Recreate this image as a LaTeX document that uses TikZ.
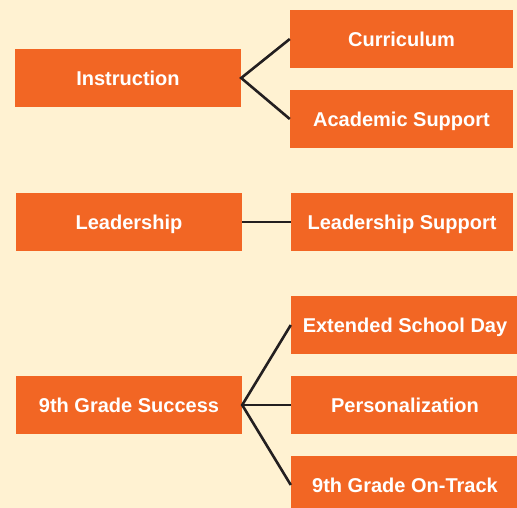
\documentclass[tikz,border=0pt]{standalone}
\usepackage{fontspec}
\setmainfont{Liberation Sans}
\definecolor{bgcream}{RGB}{255,242,210}
\definecolor{boxorange}{RGB}{242,102,36}
\definecolor{linedark}{RGB}{35,31,32}
\begin{document}
\begin{tikzpicture}[x=1pt,y=-1pt,
  box/.style={rectangle, fill=boxorange, text=white, inner sep=0pt,
    text height=15pt, text depth=0pt,
    minimum height=58pt, font=\fontsize{20}{24}\selectfont\bfseries},
  lbox/.style={box, minimum width=226pt},
  rbox/.style={box, minimum width=223pt},
  wbox/.style={box, minimum width=228pt},
  link/.style={draw=linedark, line width=2.6pt, line join=miter}]
\fill[bgcream] (0,0) rectangle (517,508);
\useasboundingbox (0,0) rectangle (517,508);
\node[lbox] (ins) at (128,78) {Instruction};
\node[rbox] (cur) at (401.5,39) {Curriculum};
\node[rbox] (aca) at (401.5,119) {Academic Support};
\node[lbox] (lea) at (129,222) {Leadership};
\node[box, minimum width=222pt] (ls) at (402,222) {Leadership Support};
\node[lbox] (nin) at (129,405) {9th Grade Success};
\node[wbox] (ext) at (405,325) {Extended School Day};
\node[wbox] (per) at (405,405) {Personalization};
\node[wbox] (ont) at (405,485) {9th Grade On-Track};
\draw[link] (cur.west) -- (ins.east) -- (aca.west);
\draw[link] (lea.east) -- (ls.west);
\draw[link] (ext.west) -- (nin.east) -- (ont.west);
\draw[link] (nin.east) -- (per.west);
\end{tikzpicture}
\end{document}
